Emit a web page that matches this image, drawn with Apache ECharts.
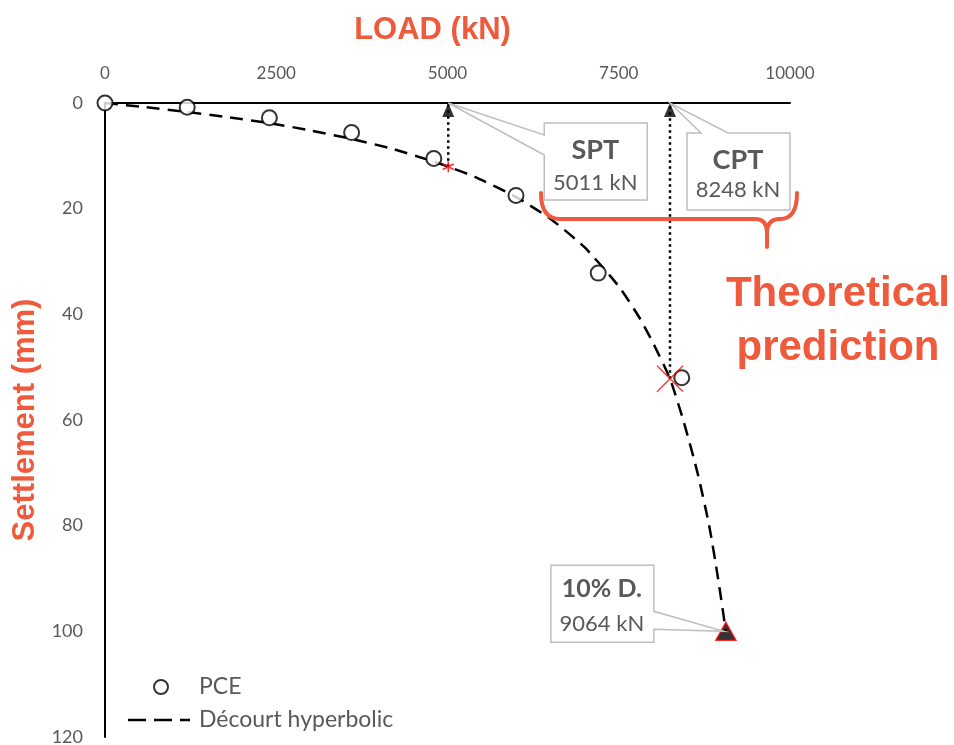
<!DOCTYPE html>
<html><head><meta charset="utf-8">
<script src="https://cdn.jsdelivr.net/npm/echarts@6/dist/echarts.min.js"></script>
<style>html,body{margin:0;padding:0;background:#fff}#c{width:954px;height:745px}</style>
</head><body><div id="c"></div>
<script>
// ---- data ----
const loadTicks = [0, 2500, 5000, 7500, 10000];
const settlementTicks = [0, 20, 40, 60, 80, 100, 120];
const pceLoad = [0, 1200, 2400, 3600, 4800, 6000, 7200, 8420];
const pceSettlement = [0, 0.8, 2.8, 5.6, 10.5, 17.5, 32.2, 52.0];
const decourtLoad = [0, 600, 1200, 1800, 2400, 3000, 3600, 4200, 4800, 5011, 5400, 6000, 6500, 7000, 7500, 7800, 8000, 8248, 8450, 8650, 8820, 8950, 9064];
const decourtSettlement = [0, 0.8, 1.7, 2.7, 3.8, 5.2, 6.8, 8.7, 11.1, 12.05, 14.0, 17.8, 21.9, 27.3, 34.7, 40.6, 45.4, 52.2, 60.4, 70, 80, 90, 100];
const predictionNames = ['SPT', 'CPT', '10% D.'];
const predictionLoad = [5011, 8248, 9064];
const predictionSettlement = [12.05, 52.2, 100];

const GRAY = '#595959';
const ORANGE = '#F05A3C';
const FONT = 'Lato, "Open Sans", sans-serif';
const BOLD = '"Liberation Sans", Arial, sans-serif';

const zip = (a, b) => a.map((v, i) => [v, b[i]]);

const chart = echarts.init(document.getElementById('c'), null, {renderer: 'canvas'});

const guideStyle = {color: '#000', width: 2.5, type: [2.5, 3.5]};

const option = {
  backgroundColor: '#fff',
  animation: false,
  grid: {left: 105, right: 164, top: 103, bottom: 8, containLabel: false, outerBoundsMode: 'none'},
  legend: {
    orient: 'vertical', left: 122, top: 670,
    itemWidth: 66, itemHeight: 14, itemGap: 9,
    textStyle: {fontSize: 23, lineHeight: 24, color: GRAY, fontFamily: FONT},
    data: [
      {name: 'PCE', icon: 'path://M0,0M66,14M40,7A7,7,0,1,0,26,7A7,7,0,1,0,40,7Z'},
      {name: 'Décourt hyperbolic', icon: 'path://M0,0M66,14M0,5.7H18V8.3H0ZM26,5.7H44V8.3H26ZM52,5.7H62V8.3H52Z'}
    ]
  },
  xAxis: {
    type: 'value', position: 'top', min: loadTicks[0], max: loadTicks[loadTicks.length - 1], interval: 2500,
    name: 'LOAD (kN)', nameLocation: 'middle', nameGap: 57,
    nameTextStyle: {fontSize: 31, fontWeight: 'bold', color: ORANGE, fontFamily: BOLD, padding: [0, 30, 0, 0]},
    axisLine: {show: true, onZero: false, lineStyle: {color: '#000', width: 2}},
    axisTick: {show: false}, splitLine: {show: false},
    axisLabel: {fontSize: 17, color: GRAY, fontFamily: FONT, margin: 21, formatter: v => String(v)}
  },
  yAxis: {
    type: 'value', inverse: true, min: settlementTicks[0], max: settlementTicks[settlementTicks.length - 1], interval: 20,
    name: 'Settlement (mm)', nameLocation: 'middle', nameGap: 60, nameRotate: 90,
    nameTextStyle: {fontSize: 31, fontWeight: 'bold', color: ORANGE, fontFamily: BOLD},
    axisLine: {show: true, onZero: false, lineStyle: {color: '#000', width: 2}},
    axisTick: {show: false}, splitLine: {show: false},
    axisLabel: {fontSize: 18, color: GRAY, fontFamily: FONT, margin: 22, formatter: v => String(v)}
  },
  series: [
    {
      name: 'Décourt hyperbolic', type: 'line', data: zip(decourtLoad, decourtSettlement),
      symbol: 'none', smooth: 0.2, z: 2,
      lineStyle: {color: '#000', width: 2.5, type: [13, 8]},
      itemStyle: {color: '#000'}
    },
    {
      name: 'SPT guide', type: 'line', data: [[predictionLoad[0], predictionSettlement[0]], [predictionLoad[0], 0]],
      symbol: 'none', lineStyle: guideStyle, z: 1, silent: true
    },
    {
      name: 'CPT guide', type: 'line', data: [[predictionLoad[1], predictionSettlement[1]], [predictionLoad[1], 0]],
      symbol: 'none', lineStyle: guideStyle, z: 1, silent: true
    },
    {
      name: 'arrows', type: 'scatter', data: [[predictionLoad[0], 0], [predictionLoad[1], 0]],
      symbol: 'triangle', symbolSize: [12, 14], symbolOffset: [0, 7],
      itemStyle: {color: '#000'}, z: 4, silent: true
    },
    {
      name: 'PCE', type: 'scatter', data: zip(pceLoad, pceSettlement),
      symbol: 'circle', symbolSize: 15,
      itemStyle: {color: '#fff', borderColor: '#000', borderWidth: 2}, z: 5
    },
    {
      name: 'SPT point', type: 'scatter', data: [[predictionLoad[0], predictionSettlement[0]]],
      symbol: 'path://M0,-10L0,10M-8.66,-5L8.66,5M-8.66,5L8.66,-5', symbolSize: 11,
      itemStyle: {color: 'rgba(0,0,0,0)', borderColor: '#FF0000', borderWidth: 1.6}, z: 6, silent: true
    },
    {
      name: 'CPT point', type: 'scatter', data: [[predictionLoad[1], predictionSettlement[1]]],
      symbol: 'path://M0,0L10,10M0,10L10,0', symbolSize: 26,
      itemStyle: {color: 'rgba(0,0,0,0)', borderColor: '#FF0000', borderWidth: 1.3}, z: 6, silent: true
    },
    {
      name: '10% D point', type: 'scatter', data: [[predictionLoad[2], predictionSettlement[2]]],
      symbol: 'triangle', symbolSize: [20, 18],
      itemStyle: {color: '#000', borderColor: '#FF0000', borderWidth: 1.5}, z: 6, silent: true
    }
  ]
};

chart.setOption(option);

const px = (x, y) => chart.convertToPixel({gridIndex: 0}, [x, y]);
const boxStyle = {fill: '#fff', stroke: '#BFBFBF', lineWidth: 1.5};

function txt(text, x, y, font, fill) {
  return {type: 'text', z: 51, silent: true, style: {
    text: text, x: x, y: y, fill: fill, font: font,
    align: 'center', verticalAlign: 'middle', textAlign: 'center', textVerticalAlign: 'middle'}};
}

function callout(tip, rel, titleText, valueText, tPos, vPos, titleSize) {
  const pts = rel.map(r => [tip[0] + r[0], tip[1] + r[1]]);
  return [
    {type: 'polygon', z: 50, shape: {points: pts}, style: boxStyle, silent: true},
    txt(titleText, tip[0] + tPos[0], tip[1] + tPos[1], 'bold ' + titleSize + 'px ' + FONT, GRAY),
    txt(valueText, tip[0] + vPos[0], tip[1] + vPos[1], '22px ' + FONT, GRAY)
  ];
}

const tSPT = px(predictionLoad[0], 0);
const tCPT = px(predictionLoad[1], 0);
const tD = px(predictionLoad[2], predictionSettlement[2]);

let graphics = [];
graphics = graphics.concat(callout(tSPT,
  [[96, 20], [199, 20], [199, 97], [96, 97], [96, 52], [0, 0], [96, 32]],
  predictionNames[0], predictionLoad[0] + ' kN', [147, 47], [147, 80], 27));
graphics = graphics.concat(callout(tCPT,
  [[17, 30], [31, 30], [0, 0], [58, 30], [120, 30], [120, 107], [17, 107]],
  predictionNames[1], predictionLoad[1] + ' kN', [68, 57], [68, 87], 27));
graphics = graphics.concat(callout([tD[0] - 2, tD[1]],
  [[-173, -66], [-70, -66], [-70, -20], [0, 0], [-70, -2], [-70, 11], [-173, 11]],
  predictionNames[2], predictionLoad[2] + ' kN', [-122, -42], [-122, -7], 25));

// orange brace and label
const braceStyle = {fill: 'none', stroke: ORANGE, lineWidth: 4, lineCap: 'round'};
graphics.push({type: 'bezierCurve', z: 40, silent: true, style: braceStyle,
  shape: {x1: 541, y1: 193, cpx1: 541, cpy1: 219, x2: 560, y2: 219}});
graphics.push({type: 'line', z: 40, silent: true, style: braceStyle,
  shape: {x1: 560, y1: 219, x2: 755, y2: 219}});
graphics.push({type: 'bezierCurve', z: 40, silent: true, style: braceStyle,
  shape: {x1: 755, y1: 219, cpx1: 767, cpy1: 219, x2: 767, y2: 233}});
graphics.push({type: 'line', z: 40, silent: true, style: braceStyle,
  shape: {x1: 767, y1: 233, x2: 767, y2: 247}});
graphics.push({type: 'bezierCurve', z: 40, silent: true, style: braceStyle,
  shape: {x1: 767, y1: 233, cpx1: 767, cpy1: 219, x2: 780, y2: 219}});
graphics.push({type: 'bezierCurve', z: 40, silent: true, style: braceStyle,
  shape: {x1: 780, y1: 219, cpx1: 797, cpy1: 219, x2: 797, y2: 193}});
graphics.push(txt('Theoretical', 838, 294, 'bold 42px ' + BOLD, ORANGE));
graphics.push(txt('prediction', 838, 348, 'bold 42px ' + BOLD, ORANGE));

chart.setOption({graphic: graphics});
</script>
</body></html>
